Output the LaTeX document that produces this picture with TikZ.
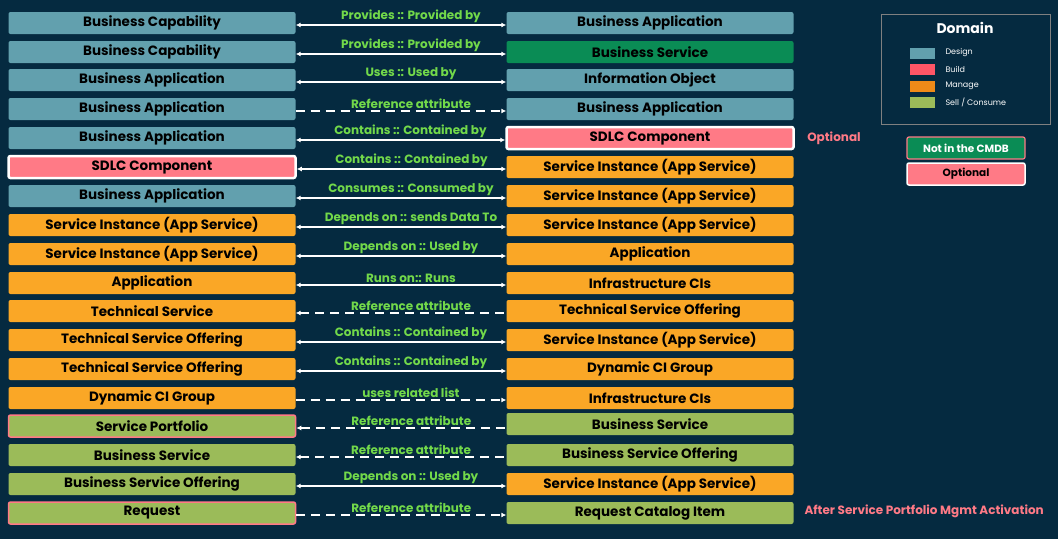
\documentclass[tikz,border=0pt]{standalone}
\usepackage{fontspec}
\setmainfont{Poppins}
\usetikzlibrary{positioning,arrows.meta}
\definecolor{bgc}{HTML}{052A40}
\definecolor{design}{HTML}{62A0AE}
\definecolor{build}{HTML}{FF7A86}
\definecolor{manage}{HTML}{FAA726}
\definecolor{sell}{HTML}{9BBB59}
\definecolor{cmdb}{HTML}{0A8C55}
\definecolor{lbl}{HTML}{72D94A}
\definecolor{legbuild}{HTML}{FF5566}
\definecolor{legmanage}{HTML}{EE8A18}
\tikzset{
  box/.style={rounded corners=2pt,minimum width=287pt,minimum height=22pt,inner sep=0pt,font=\fontsize{13.5}{15}\selectfont\bfseries,text=black},
  optbox/.style={draw=build,line width=1.5pt},
  sdlcbox/.style={draw=white,line width=2.5pt},
  rel/.style={white,line width=1.2pt,{Latex[length=5pt,width=5pt]}-{Latex[length=5pt,width=5pt]}},
  ref/.style={white,line width=1.2pt,dash pattern=on 9pt off 6pt,-{Latex[length=5pt,width=5pt]}},
  refback/.style={white,line width=1.2pt,dash pattern=on 9pt off 6pt,{Latex[length=5pt,width=5pt]}-},
  rellabel/.style={text=lbl,font=\fontsize{12}{14}\selectfont\bfseries,inner sep=1pt},
  legtext/.style={text=white,font=\fontsize{8}{9}\selectfont,anchor=west}
}
\begin{document}
\begin{tikzpicture}[x=1pt,y=-1pt]
  \fill[bgc] (0,0) rectangle (1058,539);
  \useasboundingbox (0,0) rectangle (1058,539);
  % left column
  \foreach \i/\y/\c/\t/\st in {
    1/23/design/Business Capability/,
    2/52/design/Business Capability/,
    3/80/design/Business Application/,
    4/109/design/Business Application/,
    5/138/design/Business Application/,
    6/167/build/SDLC Component/sdlcbox,
    7/196/design/Business Application/,
    8/225/manage/Service Instance (App Service)/,
    9/254/manage/Service Instance (App Service)/,
    10/283/manage/Application/,
    11/311/manage/Technical Service/,
    12/340/manage/Technical Service Offering/,
    13/369/manage/Technical Service Offering/,
    14/398/manage/Dynamic CI Group/,
    15/426/sell/Service Portfolio/optbox,
    16/455/sell/Business Service/,
    17/484/sell/Business Service Offering/,
    18/513/sell/Request/optbox}
    \node[box,fill=\c,\st] (l\i) at (152,\y) {\t};
  % right column
  \foreach \i/\y/\c/\t/\st in {
    1/23/design/Business Application/,
    2/52/cmdb/Business Service/,
    3/80/design/Information Object/,
    4/109/design/Business Application/,
    5/138/build/SDLC Component/sdlcbox,
    6/167/manage/Service Instance (App Service)/,
    7/196/manage/Service Instance (App Service)/,
    8/225/manage/Service Instance (App Service)/,
    9/254/manage/Application/,
    10/283/manage/Infrastructure CIs/,
    11/311/manage/Technical Service Offering/,
    12/340/manage/Service Instance (App Service)/,
    13/369/manage/Dynamic CI Group/,
    14/398/manage/Infrastructure CIs/,
    15/424/sell/Business Service/,
    16/455/sell/Business Service Offering/,
    17/484/manage/Service Instance (App Service)/,
    18/513/sell/Request Catalog Item/}
    \node[box,fill=\c,\st] (r\i) at (650,\y) {\t};
  % connectors
  \foreach \i/\s/\t in {
    1/rel/Provides :: Provided by,
    2/rel/Provides :: Provided by,
    3/rel/Uses :: Used by,
    4/ref/Reference attribute,
    5/rel/Contains :: Contained by,
    6/rel/Contains :: Contained by,
    7/rel/Consumes :: Consumed by,
    8/rel/Depends on :: sends Data To,
    9/rel/Depends on :: Used by,
    10/rel/Runs on:: Runs,
    11/refback/Reference attribute,
    12/rel/Contains :: Contained by,
    13/rel/Contains :: Contained by,
    14/ref/uses related list,
    15/refback/Reference attribute,
    16/refback/Reference attribute,
    17/rel/Depends on :: Used by,
    18/ref/Reference attribute}
    \draw[\s] ([yshift=-2pt]l\i.east) -- ([yshift=-2pt]l\i.east -| r\i.west)
      node[rellabel,midway,above=1pt,xshift=10pt] {\t};
  \node[text=build,font=\fontsize{12}{14}\selectfont\bfseries,right=9pt of r5] (opt1) {Optional};
  \node[text=build,font=\fontsize{12}{14}\selectfont\bfseries,anchor=west] (opt2) at (801,511) {After Service Portfolio Mgmt Activation};
  % legend
  \draw[gray,line width=1pt] (881,14) rectangle (1050,124);
  \node[text=white,font=\fontsize{14}{16}\selectfont\bfseries] (dom) at (965,28) {Domain};
  \foreach \y/\c/\t in {53/design/Design,69/legbuild/Build,86/legmanage/Manage,102/sell/{Sell / Consume}} {
    \fill[\c] (910,\y-5) rectangle (935,\y+6);
    \node[legtext] at (942,\y) {\t};
  }
  \node[box,fill=cmdb,draw=build,line width=1.2pt,minimum width=118pt,minimum height=22pt,text=white,font=\fontsize{10.5}{12}\selectfont\bfseries] (nocmdb) at (966,148) {Not in the CMDB};
  \node[box,fill=build,draw=white,line width=1.5pt,minimum width=118pt,minimum height=22pt,font=\fontsize{10.5}{12}\selectfont\bfseries] (optleg) at (966,174) {Optional};
\end{tikzpicture}
\end{document}
